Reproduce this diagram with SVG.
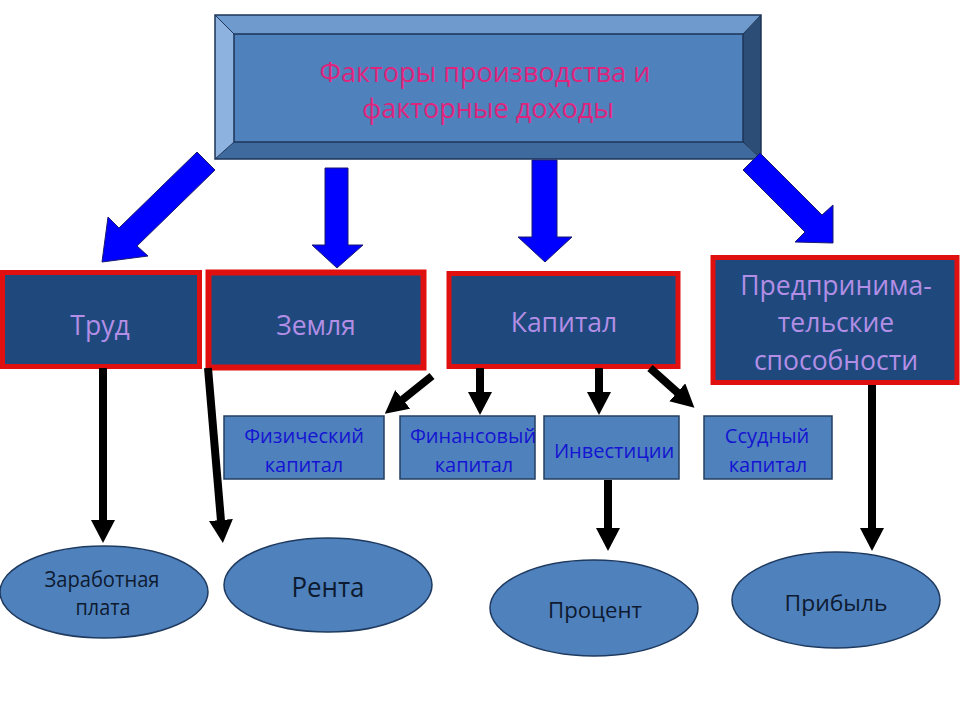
<svg xmlns="http://www.w3.org/2000/svg" width="960" height="720" viewBox="0 0 960 720">
<defs>
<style>
.main{fill:#1f497d;stroke:#e01010;stroke-width:5}
.sub{fill:#4f81bd;stroke:#243f60;stroke-width:1.5}
.ell{fill:#4f81bd;stroke:#1f3a5f;stroke-width:1.5}
.big{fill:#0000ff;stroke:#1a1a70;stroke-width:1}
.blk{stroke:#000;stroke-width:8;fill:none;marker-end:url(#ah)}
.t-title{font-family:"Open Sans","DejaVu Sans",sans-serif;font-size:27px;fill:#e0247c;text-anchor:middle}
.t-main{font-family:"Open Sans","DejaVu Sans",sans-serif;font-size:26.5px;fill:#b38ee6;text-anchor:middle}
.t-sub{font-family:"Open Sans","DejaVu Sans",sans-serif;font-size:20px;fill:#1414d2;text-anchor:middle}
.t-ell{font-family:"Open Sans","DejaVu Sans",sans-serif;fill:#0d1a30;text-anchor:middle}
</style>
<marker id="ah" viewBox="0 -12 23 24" refX="1" refY="0" markerUnits="userSpaceOnUse" markerWidth="23" markerHeight="24" orient="auto">
<path d="M0,-12 L23,0 L0,12 z" fill="#000"/>
</marker>
</defs>
<rect width="960" height="720" fill="#fff"/>

<g id="title">
<polygon points="215,15 761,15 743,34 234,34" fill="#6f9acd"/>
<polygon points="215,15 234,34 234,142 215,159" fill="#8db2df"/>
<polygon points="215,159 234,142 743,142 761,159" fill="#3f6a9e"/>
<polygon points="761,15 761,159 743,142 743,34" fill="#2c4d75"/>
<rect x="234" y="34" width="509" height="108" fill="#4f81bd" stroke="#1d3557" stroke-width="1.5"/>
<rect x="215" y="15" width="546" height="144" fill="none" stroke="#1d3557" stroke-width="1.5"/>
<line x1="215" y1="15" x2="234" y2="34" stroke="#1d3557" stroke-width="1"/>
<line x1="761" y1="15" x2="743" y2="34" stroke="#1d3557" stroke-width="1"/>
<line x1="215" y1="159" x2="234" y2="142" stroke="#1d3557" stroke-width="1"/>
<line x1="761" y1="159" x2="743" y2="142" stroke="#1d3557" stroke-width="1"/>
<text class="t-title" x="485" y="82">Факторы производства и</text>
<text class="t-title" x="488" y="118">факторные доходы</text>
</g>

<g id="trud">
<rect class="main" x="2.5" y="272.5" width="197" height="94"/>
<text class="t-main" x="100" y="335">Труд</text>
</g>
<g id="zemlya">
<rect class="main" x="208.5" y="272.5" width="215" height="95" style="stroke-width:6"/>
<text class="t-main" x="316" y="335">Земля</text>
</g>
<g id="kapital">
<rect class="main" x="449" y="273.5" width="229" height="93"/>
<text class="t-main" x="564" y="332">Капитал</text>
</g>
<g id="predpr">
<rect class="main" x="713" y="257.5" width="244" height="125"/>
<text class="t-main" x="836" y="295">Предпринима-</text>
<text class="t-main" x="836" y="332">тельские</text>
<text class="t-main" x="836" y="370">способности</text>
</g>

<g id="fiz">
<rect class="sub" x="224" y="416" width="160" height="63"/>
<text class="t-sub" x="304" y="443">Физический</text>
<text class="t-sub" x="304" y="472">капитал</text>
</g>
<g id="fin">
<rect class="sub" x="400" y="416" width="135" height="63"/>
<text class="t-sub" x="473" y="443">Финансовый</text>
<text class="t-sub" x="474" y="472">капитал</text>
</g>
<g id="invest">
<rect class="sub" x="544" y="416" width="135" height="63"/>
<text class="t-sub" x="614" y="458">Инвестиции</text>
</g>
<g id="ssud">
<rect class="sub" x="704" y="416" width="128" height="63"/>
<text class="t-sub" x="767" y="443">Ссудный</text>
<text class="t-sub" x="768" y="472">капитал</text>
</g>

<g id="zarplata">
<ellipse class="ell" cx="104" cy="592" rx="104" ry="46"/>
<text class="t-ell" x="102" y="587" font-size="21" textLength="115" lengthAdjust="spacingAndGlyphs">Заработная</text>
<text class="t-ell" x="103" y="615" font-size="21" textLength="55" lengthAdjust="spacingAndGlyphs">плата</text>
</g>
<g id="renta">
<ellipse class="ell" cx="328" cy="585" rx="104" ry="47"/>
<text class="t-ell" x="328" y="597" font-size="28" textLength="73" lengthAdjust="spacingAndGlyphs">Рента</text>
</g>
<g id="procent">
<ellipse class="ell" cx="594" cy="608" rx="104" ry="48"/>
<text class="t-ell" x="595" y="618" font-size="21" textLength="94" lengthAdjust="spacingAndGlyphs">Процент</text>
</g>
<g id="pribyl">
<ellipse class="ell" cx="836" cy="600" rx="104" ry="48"/>
<text class="t-ell" x="836" y="611" font-size="22" textLength="103" lengthAdjust="spacingAndGlyphs">Прибыль</text>
</g>

<g id="connectors">
<polygon class="big" points="197,152 215,170 137,246 148,256 102,262 108,217 119,228"/>
<polygon class="big" points="325,168 348,168 348,245 363,245 337,268 312,245 325,245"/>
<polygon class="big" points="532,160 557,160 557,237 572,237 545,262 518,237 532,237"/>
<polygon class="big" points="760,153 822,215 833,205 833,243 795,242 805,232 743,170"/>
<line class="blk" x1="103" y1="368" x2="103" y2="521"/>
<line class="blk" x1="208" y1="368" x2="221" y2="521"/>
<line class="blk" x1="432" y1="376" x2="402" y2="400"/>
<line class="blk" x1="480" y1="368" x2="480" y2="393"/>
<line class="blk" x1="599" y1="368" x2="599" y2="393"/>
<line class="blk" x1="650" y1="368" x2="678" y2="393"/>
<line class="blk" x1="608" y1="480" x2="608" y2="529"/>
<line class="blk" x1="872" y1="385" x2="872" y2="529"/>
</g>
</svg>
